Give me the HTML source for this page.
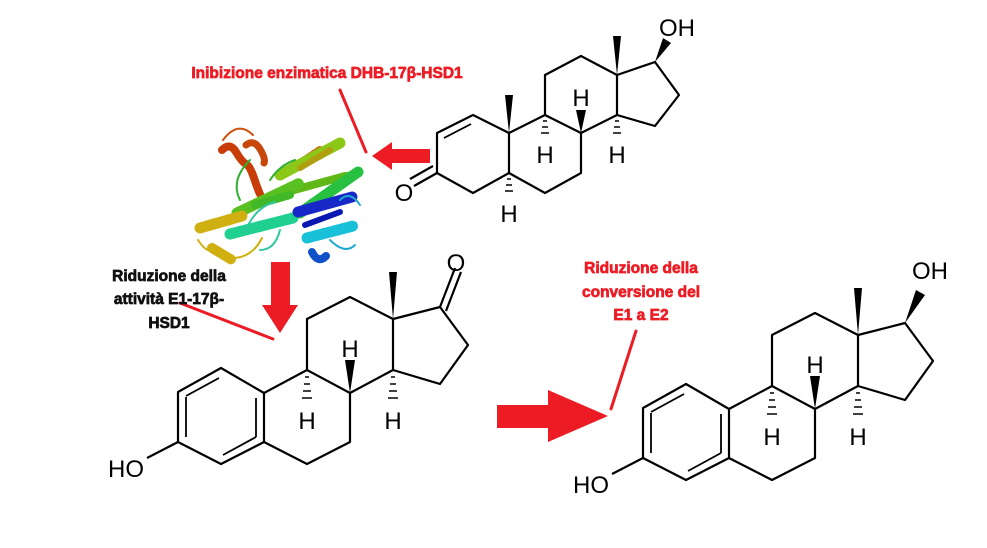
<!DOCTYPE html>
<html><head><meta charset="utf-8"><style>
html,body{margin:0;padding:0;background:#fff;}
svg{display:block}
.t{font-family:"Liberation Sans",sans-serif;font-size:24px;fill:#000}
.lb{font-family:"Liberation Sans","DejaVu Sans",sans-serif;font-weight:bold;font-size:15.5px;stroke-width:0.7px}
</style></head><body>
<svg width="987" height="548" viewBox="0 0 987 548" xmlns="http://www.w3.org/2000/svg">
<defs>
<g id="core" fill="none" stroke="#000" stroke-width="2.2" stroke-linejoin="round">
  <path d="M221,368 L178,392 L178,442 L221,464 L264,442 L264,393 Z"/>
  <path d="M219,378 L186,396 M186,397 L186,437 M223,455 L256,437 M256,398 L256,437" stroke-width="1.8"/>
  <path d="M264,393 L307,370 L350,393 L350,442 L307,464 L264,442"/>
  <path d="M307,370 L307,319 L350,297 L393,319 L393,370 L350,393"/>
  <path d="M393,319 L440,307 L468,345 L440,384 L393,370"/>
  <path d="M178,442 L147,458"/>
</g>
<g id="stereo">
  <polygon points="393,319 389,272 397,272" fill="#000"/>
  <polygon points="350,393 345,360 355,360" fill="#000"/>
  <g stroke="#000" stroke-width="1.6">
    <path d="M305,377 h4 M304,384 h6 M303,391 h8 M302,398 h10"/>
    <path d="M391,377 h4 M390,384 h6 M389,391 h8 M388,398 h10"/>
  </g>
  <text class="t" x="350" y="357" text-anchor="middle">H</text>
  <text class="t" x="307" y="429" text-anchor="middle">H</text>
  <text class="t" x="393" y="429" text-anchor="middle">H</text>
  <text class="t" x="126" y="477" text-anchor="middle">HO</text>
</g>
</defs>

<use href="#core"/>
<use href="#stereo"/>
<path d="M440,307 L455,268 M446,311 L461,272" stroke="#000" stroke-width="2.2"/>
<text class="t" x="456" y="271" text-anchor="middle">O</text>

<g transform="translate(465,16)">
  <use href="#core"/>
  <use href="#stereo"/>
  <polygon points="440,307 451,274 460,279" fill="#000"/>
  <text class="t" x="465" y="263" text-anchor="middle">OH</text>
</g>

<g fill="none" stroke="#000" stroke-width="2.2" stroke-linejoin="round">
  <path d="M473,115 L437,133 L437,173 L473,193 L509,173 L509,133 Z"/>
  <path d="M471,124 L444,138" stroke-width="1.8"/>
  <path d="M509,173 L545,193 L581,173 L581,133 L545,115 L509,133"/>
  <path d="M545,115 L545,75 L581,56 L617,75 L617,115 L581,133"/>
  <path d="M617,75 L655,62 L679,95 L655,126 L617,115"/>
  <path d="M437,173 L414,186 M433,166 L410,179"/>
</g>
<text class="t" x="404" y="201" text-anchor="middle">O</text>
<polygon points="509,133 505,95 513,95" fill="#000"/>
<polygon points="617,75 613,36 621,36" fill="#000"/>
<polygon points="655,62 663,38 671,43" fill="#000"/>
<polygon points="581,133 576,110 586,110" fill="#000"/>
<g stroke="#000" stroke-width="1.6">
  <path d="M543,121 h4 M542,127 h6 M541,133 h8"/>
  <path d="M615,121 h4 M614,127 h6 M613,133 h8"/>
  <path d="M507,179 h4 M506,185 h6 M505,191 h8"/>
</g>
<text class="t" x="677" y="36" text-anchor="middle">OH</text>
<text class="t" x="581" y="106" text-anchor="middle">H</text>
<text class="t" x="545" y="163" text-anchor="middle">H</text>
<text class="t" x="617" y="163" text-anchor="middle">H</text>
<text class="t" x="509" y="222" text-anchor="middle">H</text>

<!-- Protein (approximation) -->
<g fill="none" stroke-linecap="round" stroke-linejoin="round">
  <path d="M222,150 q8,-8 14,2 t10,12 t8,14 t6,16" stroke="#c83c08" stroke-width="8"/>
  <path d="M246,145 q8,-6 14,4 t4,14" stroke="#c8480a" stroke-width="7"/>
  <path d="M223,140 q15,-20 30,-5" stroke="#d05010" stroke-width="2"/>
  <path d="M290,170 L320,150" stroke="#c87010" stroke-width="8"/>
  <path d="M280,175 L340,143" stroke="#8cc818" stroke-width="11" stroke-dasharray="5 2"/>
  <path d="M287,192 L345,176" stroke="#60b818" stroke-width="8"/>
  <path d="M340,176 l8,-4 l-2,10 z" fill="#60b818" stroke="#60b818"/>
  <path d="M300,168 L330,150" stroke="#b0a010" stroke-width="6"/>
  <path d="M237,213 L300,183" stroke="#58c020" stroke-width="11" stroke-dasharray="5 2"/>
  <path d="M255,205 L290,195" stroke="#40b828" stroke-width="8"/>
  <path d="M300,213 L358,172" stroke="#28c040" stroke-width="11" stroke-dasharray="5 2"/>
  <path d="M200,228 L242,216" stroke="#d0b010" stroke-width="11" stroke-dasharray="5 2"/>
  <path d="M212,248 L232,260" stroke="#d0b010" stroke-width="10" stroke-dasharray="4 2"/>
  <path d="M198,240 q10,15 15,8 M232,258 q20,0 30,-20" stroke="#d0b010" stroke-width="2"/>
  <path d="M230,234 L293,218" stroke="#20d090" stroke-width="11" stroke-dasharray="5 2"/>
  <path d="M245,232 q10,-25 30,-30 M260,250 q15,0 20,-20" stroke="#30c8a0" stroke-width="2"/>
  <path d="M298,212 L352,197" stroke="#1828c8" stroke-width="11"/>
  <path d="M305,225 L340,212" stroke="#0818b0" stroke-width="6"/>
  <path d="M307,238 L353,226" stroke="#18c0d8" stroke-width="11" stroke-dasharray="5 2"/>
  <path d="M312,252 q6,12 14,4" stroke="#1050c8" stroke-width="8"/>
  <path d="M340,200 q10,-10 20,5 M330,240 q15,15 25,5" stroke="#20a8d0" stroke-width="2"/>
  <path d="M240,200 q-10,-20 10,-40 M270,180 q10,-15 25,-20" stroke="#30b030" stroke-width="2"/>
</g>

<polygon points="372,156 392,142 392,149 430,149 430,163 392,163 392,170" fill="#ed1c24"/>
<polygon points="271,262 290,262 290,305 298,305 280,333 262,305 271,305" fill="#ed1c24"/>
<polygon points="497,405 548,405 548,390 608,416 548,442 548,428 497,428" fill="#ed1c24"/>

<g stroke="#ed1c24" stroke-width="3" stroke-linecap="round">
  <line x1="340" y1="90" x2="366" y2="152"/>
  <line x1="180" y1="303" x2="273" y2="339"/>
  <line x1="636" y1="331" x2="611" y2="409"/>
</g>

<text class="lb" x="327" y="78" text-anchor="middle" fill="#ed1c24" stroke="#ed1c24">Inibizione enzimatica DHB-17β-HSD1</text>
<g class="lb" fill="#111" stroke="#111" text-anchor="middle">
  <text x="169" y="281">Riduzione della</text>
  <text x="169" y="304">attività E1-17β-</text>
  <text x="169" y="328">HSD1</text>
</g>
<g class="lb" fill="#ed1c24" stroke="#ed1c24" text-anchor="middle">
  <text x="641" y="273">Riduzione della</text>
  <text x="641" y="297">conversione del</text>
  <text x="641" y="320">E1 a E2</text>
</g>
</svg>
</body></html>
